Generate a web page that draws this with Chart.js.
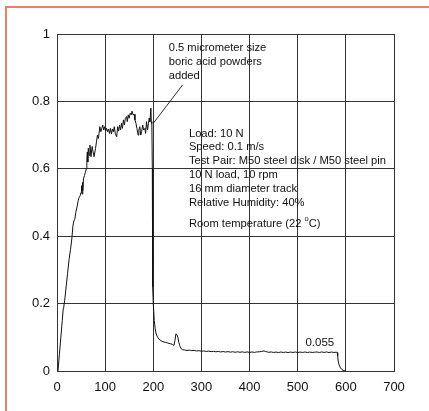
<!DOCTYPE html>
<html>
<head>
<meta charset="utf-8">
<script src="https://cdn.jsdelivr.net/npm/chart.js@4.4.0/dist/chart.umd.min.js"></script>
<style>
  html, body { margin: 0; padding: 0; background: #ffffff; }
  #wrap { position: relative; width: 429px; height: 411px; overflow: hidden; }
  #frame { position: absolute; left: 5px; top: 6px; width: 500px; height: 500px;
           border-left: 2px solid #e4806f; border-top: 2px solid #e4806f; }
  canvas { position: absolute; left: 0; top: 0; }
</style>
</head>
<body>
<div id="wrap">
  <div id="frame"></div>
  <canvas id="c" width="429" height="411"></canvas>
</div>
<script>
// Sliding distance (m) vs friction coefficient
const distance = [
  2, 5, 8, 11, 13, 14, 16, 19, 22, 25, 28, 31, 33, 35, 37, 39, 42, 44, 46, 48,
  50, 51, 52, 53, 54, 55, 57, 59, 61, 62, 63, 64, 65, 67, 68.5, 70.5, 73, 75, 77, 80,
  82, 84, 86, 89, 91, 93, 95, 97, 99, 101, 103, 105, 107, 109, 111, 113, 115, 117, 119, 121,
  124, 126, 128, 130, 132, 134, 136, 138, 140, 142, 144.5, 146, 148, 150, 152, 154, 156, 158, 160, 162,
  164, 166, 168.5, 170, 172, 174, 175.7, 178, 180, 182.5, 184, 186, 188, 190, 191.5, 193, 195, 196, 197, 198,
  198.5, 199, 200, 202, 204, 206, 209, 212, 216, 220, 225, 230, 235, 240, 243, 245, 247, 249, 251, 253,
  255, 258, 261, 265, 270, 275, 280, 285, 290, 295, 300, 305, 310, 315, 320, 325, 330, 335, 340, 345,
  350, 355, 360, 365, 370, 375, 380, 385, 390, 395, 400, 405, 410, 415, 420, 425, 430, 433, 437, 440,
  445, 450, 455, 460, 465, 470, 475, 480, 485, 490, 495, 500, 505, 510, 515, 520, 525, 530, 535, 540,
  545, 550, 555, 560, 565, 570, 575, 580, 582, 583, 584, 586, 589, 592, 596, 600
];
const friction = [
  0, 0.05, 0.1, 0.15, 0.186, 0.19, 0.21, 0.25, 0.29, 0.33, 0.36, 0.395, 0.43, 0.445, 0.45, 0.47, 0.49, 0.505, 0.515, 0.52,
  0.53, 0.55, 0.525, 0.56, 0.535, 0.57, 0.58, 0.59, 0.6, 0.63, 0.65, 0.62, 0.661, 0.64, 0.67, 0.636, 0.666, 0.65, 0.636, 0.66,
  0.68, 0.70, 0.69, 0.725, 0.71, 0.72, 0.73, 0.715, 0.725, 0.712, 0.72, 0.71, 0.718, 0.705, 0.72, 0.703, 0.718, 0.71, 0.725, 0.705,
  0.695, 0.725, 0.712, 0.73, 0.715, 0.735, 0.72, 0.745, 0.73, 0.75, 0.755, 0.74, 0.76, 0.75, 0.765, 0.76, 0.771, 0.76, 0.762, 0.745,
  0.735, 0.72, 0.70, 0.715, 0.725, 0.70, 0.71, 0.73, 0.715, 0.72, 0.705, 0.74, 0.715, 0.735, 0.75, 0.74, 0.78, 0.735, 0.74, 0.6,
  0.4, 0.25, 0.2, 0.15, 0.125, 0.11, 0.1, 0.094, 0.09, 0.087, 0.085, 0.083, 0.081, 0.079, 0.076, 0.09, 0.11, 0.108, 0.1, 0.085,
  0.075, 0.066, 0.063, 0.0625, 0.061, 0.062, 0.0605, 0.0612, 0.0595, 0.0603, 0.0585, 0.0595, 0.058, 0.059, 0.0575, 0.0585, 0.057, 0.058, 0.0565, 0.0578,
  0.0562, 0.0575, 0.056, 0.0572, 0.0555, 0.057, 0.0555, 0.0568, 0.0552, 0.0566, 0.055, 0.0565, 0.0552, 0.0566, 0.057, 0.058, 0.0595, 0.058, 0.0565, 0.0555,
  0.0565, 0.055, 0.0562, 0.0548, 0.0564, 0.055, 0.0562, 0.0548, 0.0563, 0.055, 0.0564, 0.0548, 0.0562, 0.055, 0.0565, 0.0548, 0.0562, 0.055, 0.0558, 0.0565,
  0.055, 0.0566, 0.055, 0.0566, 0.0548, 0.0563, 0.055, 0.0558, 0.0548, 0.045, 0.03, 0.018, 0.009, 0.004, 0.001, 0
];
const xTicks = [0, 100, 200, 300, 400, 500, 600, 700];
const yTicks = [0, 0.2, 0.4, 0.6, 0.8, 1];

const noteLines = ['0.5 micrometer size', 'boric acid powders', 'added'];
const infoLines = ['Load: 10 N', 'Speed: 0.1 m/s', 'Test Pair: M50 steel disk / M50 steel pin',
                   '10 N load, 10 rpm', '16 mm diameter track', 'Relative Humidity: 40%'];
const tempText = ['Room temperature (22 ', 'o', 'C)'];
const endValueLabel = '0.055';

const FONT = '"Liberation Sans", Arial, sans-serif';
const GRID = '#333333';

const textPlugin = {
  id: 'texts',
  afterDatasetsDraw(chart) {
    const ctx = chart.ctx;
    const xs = chart.scales.x, ys = chart.scales.y;
    const px = v => xs.getPixelForValue(v);
    const py = v => ys.getPixelForValue(v);
    ctx.save();
    ctx.fillStyle = '#111';
    ctx.textBaseline = 'middle';
    ctx.textAlign = 'left';
    ctx.font = '11.2px ' + FONT;
    const noteY = [0.958, 0.917, 0.876];
    noteLines.forEach((t, i) => ctx.fillText(t, px(232), py(noteY[i])));
    ctx.strokeStyle = '#111';
    ctx.lineWidth = 0.9;
    ctx.beginPath();
    ctx.moveTo(px(261), py(0.849));
    ctx.lineTo(px(200.5), py(0.736));
    ctx.stroke();
    const infoY = [0.703, 0.664, 0.623, 0.582, 0.540, 0.499];
    infoLines.forEach((t, i) => ctx.fillText(t, px(274), py(infoY[i])));
    const ty = py(0.437);
    let x0 = px(274);
    ctx.fillText(tempText[0], x0, ty);
    x0 += ctx.measureText(tempText[0]).width;
    ctx.font = '7.5px ' + FONT;
    ctx.fillText(tempText[1], x0, ty - 4.5);
    x0 += ctx.measureText(tempText[1]).width;
    ctx.font = '11.2px ' + FONT;
    ctx.fillText(tempText[2], x0, ty);
    ctx.font = '11.5px ' + FONT;
    ctx.textAlign = 'center';
    ctx.fillText(endValueLabel, px(546), py(0.083));
    ctx.restore();
  }
};

new Chart(document.getElementById('c'), {
  type: 'scatter',
  data: {
    datasets: [{
      data: distance.map((d, i) => ({ x: d, y: friction[i] })),
      showLine: true,
      borderColor: '#111',
      borderWidth: 1,
      pointRadius: 0,
      tension: 0,
      fill: false
    }]
  },
  options: {
    responsive: false,
    animation: false,
    events: [],
    layout: { padding: { left: 0, right: 35, top: 34, bottom: 0 } },
    plugins: { legend: { display: false }, tooltip: { enabled: false } },
    scales: {
      x: {
        type: 'linear', min: 0, max: 700,
        afterBuildTicks: s => { s.ticks = xTicks.map(v => ({ value: v })); },
        afterFit: s => { s.height = 40; },
        grid: { color: GRID, lineWidth: 1, drawTicks: false },
        border: { color: GRID, width: 1 },
        ticks: { color: '#111', font: { family: FONT, size: 13 }, padding: 9, maxRotation: 0 }
      },
      y: {
        type: 'linear', min: 0, max: 1,
        afterBuildTicks: s => { s.ticks = yTicks.map(v => ({ value: v })); },
        afterFit: s => { s.width = 57; },
        grid: { color: GRID, lineWidth: 1, drawTicks: false },
        border: { color: GRID, width: 1 },
        ticks: { color: '#111', font: { family: FONT, size: 13 }, padding: 7,
                 callback: v => String(v) }
      }
    }
  },
  plugins: [textPlugin]
});
</script>
</body>
</html>
